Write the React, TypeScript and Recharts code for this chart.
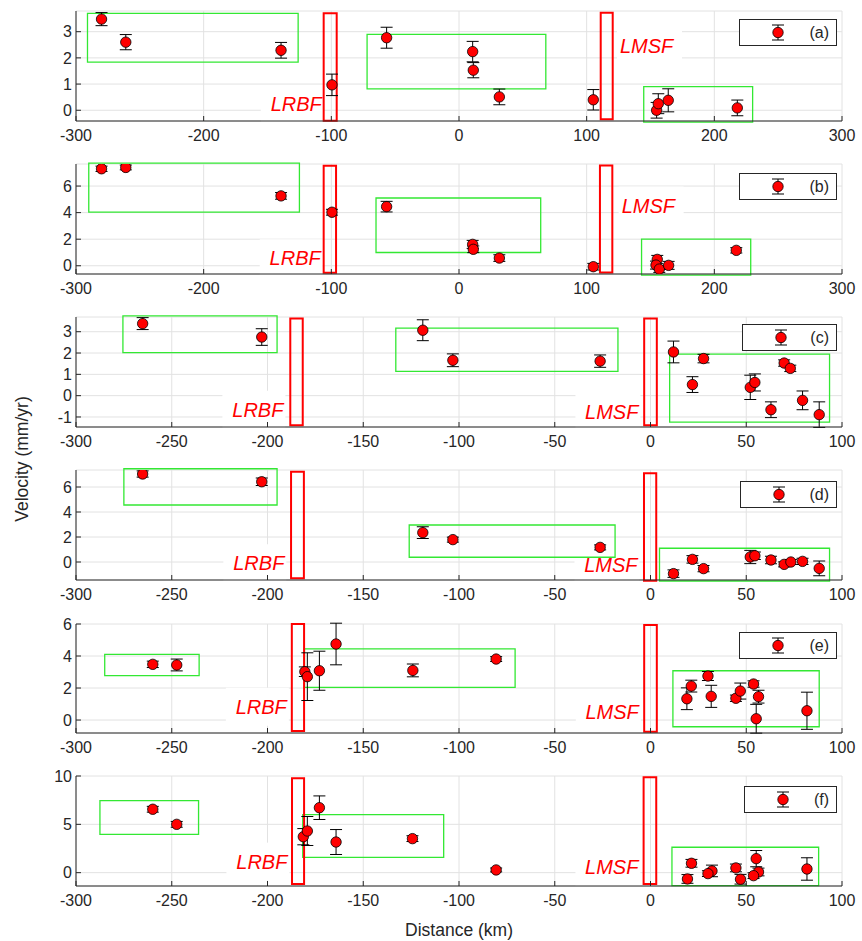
import { ScatterChart, Scatter, XAxis, YAxis, CartesianGrid, ErrorBar, ReferenceArea, ReferenceDot, Legend } from 'recharts';

const FONT = '"Liberation Sans", Arial, Helvetica, sans-serif';
const INK = '#262626';
const GREEN = '#33e833';
const RED = '#ff0000';

// x ticks
const ticksWide = [-300, -200, -100, 0, 100, 200, 300];
const ticksNarrow = [-300, -250, -200, -150, -100, -50, 0, 50, 100];

// panel (a)
const distA = [-280, -261, -139.4, -99.5, -56.7, 10.7, 11.2, 31.6, 105.2, 154.8, 156.1, 163.9, 218];
const velA = [3.48, 2.6, 2.29, 0.97, 2.77, 2.24, 1.53, 0.51, 0.4, 0.0, 0.25, 0.38, 0.09];
const errA = [0.25, 0.29, 0.3, 0.41, 0.4, 0.39, 0.29, 0.3, 0.39, 0.3, 0.38, 0.44, 0.3];
const yTicksA = [0, 1, 2, 3];

// panel (b)
const distB = [-280, -261, -139.4, -99.5, -56.7, 10.7, 11.2, 31.6, 105.2, 155.3, 154.3, 156.9, 164.2, 217.2];
const velB = [7.3, 7.4, 5.26, 4.03, 4.45, 1.61, 1.24, 0.58, -0.07, 0.48, 0.05, -0.25, 0.03, 1.16];
const errB = [0.2, 0.18, 0.25, 0.22, 0.4, 0.3, 0.25, 0.25, 0.25, 0.3, 0.3, 0.25, 0.3, 0.2];
const yTicksB = [0, 2, 4, 6];

// panel (c)
const distC = [-265.2, -203, -118.9, -103.2, -26.3, 12, 27.7, 21.9, 52.1, 54.5, 69.8, 73, 62.9, 79.4, 88.1];
const velC = [3.38, 2.75, 3.07, 1.66, 1.62, 2.05, 1.74, 0.52, 0.39, 0.62, 1.53, 1.28, -0.66, -0.22, -0.89];
const errC = [0.28, 0.39, 0.49, 0.3, 0.29, 0.51, 0.2, 0.37, 0.57, 0.4, 0.15, 0.15, 0.37, 0.44, 0.6];
const yTicksC = [-1, 0, 1, 2, 3];

// panel (d)
const distD = [-265.2, -203, -118.9, -103.2, -26.3, 12, 21.9, 27.7, 52.1, 54.5, 62.9, 69.8, 73.3, 79.4, 88.1];
const velD = [7.04, 6.42, 2.35, 1.79, 1.17, -0.93, 0.21, -0.53, 0.4, 0.5, 0.16, -0.19, 0.0, 0.05, -0.51];
const errD = [0.25, 0.3, 0.47, 0.2, 0.2, 0.3, 0.3, 0.25, 0.53, 0.3, 0.3, 0.2, 0.2, 0.25, 0.59];
const yTicksD = [0, 2, 4, 6];

// panel (e)
const distE = [-259.9, -247.4, -180.5, -179.2, -172.9, -164.2, -124.1, -80.6, 21.3, 19, 30, 31.7, 44.6, 46.9, 53.8, 56.4, 55.2, 81.7];
const velE = [3.48, 3.44, 3.02, 2.71, 3.08, 4.75, 3.1, 3.81, 2.12, 1.33, 2.75, 1.48, 1.36, 1.81, 2.25, 1.46, 0.08, 0.58];
const errE = [0.2, 0.37, 0.3, 1.49, 1.22, 1.3, 0.4, 0.15, 0.37, 0.68, 0.28, 0.69, 0.2, 0.5, 0.2, 0.4, 0.9, 1.16];
const yTicksE = [0, 2, 4, 6];

// panel (f)
const distF = [-259.9, -247.4, -181.3, -179.2, -172.9, -164.2, -124.3, -80.6, 21.4, 19.3, 32.1, 30, 44.6, 47, 55.2, 56.4, 53.8, 81.7];
const velF = [6.56, 5.0, 3.72, 4.31, 6.72, 3.17, 3.52, 0.28, 0.97, -0.65, 0.18, -0.1, 0.49, -0.68, 1.45, 0.07, -0.31, 0.38];
const errF = [0.3, 0.3, 0.84, 1.5, 1.22, 1.29, 0.3, 0.2, 0.4, 0.45, 0.6, 0.3, 0.4, 0.5, 0.84, 0.4, 0.3, 1.16];
const yTicksF = [0, 5, 10];

// boxes: [x1, x2, y1, y2] in data units
type Box = [number, number, number, number];
const greenA: Box[] = [[-291, -126, 1.84, 3.7], [-72, 68, 0.82, 2.9], [144.7, 230, -0.45, 0.9]];
const greenB: Box[] = [[-290, -125, 4.03, 7.73], [-65, 64, 1.0, 5.1], [143, 228.5, -0.7, 2.0]];
const greenC: Box[] = [[-275.5, -195, 2.02, 3.74], [-133, -17, 1.14, 3.17], [10, 93.5, -1.24, 1.95]];
const greenD: Box[] = [[-275, -195, 4.56, 7.46], [-126, -18.5, 0.38, 2.96], [4.7, 93.5, -1.52, 1.1]];
const greenE: Box[] = [[-285, -235.7, 2.77, 4.1], [-180.7, -70.7, 2.04, 4.44], [11.7, 88.1, -0.42, 3.08]];
const greenF: Box[] = [[-287.5, -236, 3.97, 7.45], [-181.6, -108, 1.59, 6.0], [11.2, 87.8, -1.34, 2.63]];

const faultsA: Box[] = [[-106, -95.8, -0.4, 3.7], [111, 120.4, -0.34, 3.72]];
const faultsB: Box[] = [[-106, -96.3, -0.53, 7.52], [110.4, 120.1, -0.5, 7.55]];
const faultsC: Box[] = [[-188.1, -181.6, -1.39, 3.62], [-3.3, 3.3, -1.39, 3.62]];
const faultsD: Box[] = [[-187.7, -181, -1.3, 7.22], [-3.4, 3.0, -1.5, 7.1]];
const faultsE: Box[] = [[-187.3, -180.9, -0.69, 6.0], [-3.3, 3.3, -0.73, 5.94]];
const faultsF: Box[] = [[-187.2, -180.9, -1.17, 9.76], [-3.6, 3.0, -1.17, 9.87]];

type FaultLabel = { text: string; x: number; y: number; anchor: 'start' | 'end' };
const labelsA: FaultLabel[] = [{ text: 'LRBF', x: -107.5, y: 0.24, anchor: 'end' }, { text: 'LMSF', x: 126.1, y: 2.45, anchor: 'start' }];
const labelsB: FaultLabel[] = [{ text: 'LRBF', x: -108.3, y: 0.56, anchor: 'end' }, { text: 'LMSF', x: 127.4, y: 4.53, anchor: 'start' }];
const labelsC: FaultLabel[] = [{ text: 'LRBF', x: -191.7, y: -0.66, anchor: 'end' }, { text: 'LMSF', x: -6.3, y: -0.77, anchor: 'end' }];
const labelsD: FaultLabel[] = [{ text: 'LRBF', x: -191.2, y: -0.1, anchor: 'end' }, { text: 'LMSF', x: -6.8, y: -0.24, anchor: 'end' }];
const labelsE: FaultLabel[] = [{ text: 'LRBF', x: -189.9, y: 0.83, anchor: 'end' }, { text: 'LMSF', x: -6.1, y: 0.48, anchor: 'end' }];
const labelsF: FaultLabel[] = [{ text: 'LRBF', x: -189.6, y: 1.14, anchor: 'end' }, { text: 'LMSF', x: -6.3, y: 0.56, anchor: 'end' }];

const TEXT_W: Record<string, number> = { LRBF: 51, LMSF: 53 };

// white backing box behind the fault name, like a MATLAB text background
function faultBack(text: string, anchor: 'start' | 'end') {
  return (props: any) => {
    const { cx, cy } = props;
    const w = TEXT_W[text];
    const left = anchor === 'end' ? cx - w - 10 : cx - 3;
    return <rect x={left} y={cy - 19} width={w + 12} height={38} fill="#fff" />;
  };
}

function faultText(text: string, anchor: 'start' | 'end') {
  return (props: any) => (
    <text x={props.cx} y={props.cy + 7} textAnchor={anchor} fill={RED} fontSize={20} fontStyle="italic" fontFamily={FONT}>
      {text}
    </text>
  );
}

const dotShape = (props: any) => (
  <circle cx={props.cx} cy={props.cy} r={5.2} fill={RED} stroke="#000" strokeWidth={0.8} />
);

function LegendBox({ tag, width }: { tag: string; width: number }) {
  return (
    <div
      style={{
        boxSizing: 'border-box', width, height: 27, border: `1px solid ${INK}`, background: '#fff',
        position: 'relative', fontFamily: FONT, fontSize: 16, color: INK,
      }}
    >
      <svg width={20} height={25} style={{ position: 'absolute', left: 28, top: 0 }}>
        <line x1={10} x2={10} y1={5} y2={20} stroke="#000" />
        <line x1={4} x2={16} y1={5} y2={5} stroke="#000" />
        <line x1={4} x2={16} y1={20} y2={20} stroke="#000" />
        <circle cx={10} cy={12.5} r={5.2} fill={RED} stroke="#000" strokeWidth={0.8} />
      </svg>
      <span style={{ position: 'absolute', right: 7, top: 4, lineHeight: '18px' }}>{tag}</span>
    </div>
  );
}

type PanelProps = {
  tag: string;
  dist: number[];
  vel: number[];
  err: number[];
  xDomain: [number, number];
  xTicks: number[];
  yDomain: [number, number];
  yTicks: number[];
  green: Box[];
  faults: Box[];
  labels: FaultLabel[];
  top: number;
  plotH: number;
  legendLeft: number;
  legendTop: number;
  legendWidth: number;
};

const tickStyle = { fill: INK, fontSize: 16, fontFamily: FONT };

function Panel(p: PanelProps) {
  const data = p.dist.map((d, i) => ({ x: d, y: p.vel[i], err: p.err[i] }));
  const pad = 10;
  return (
    <div style={{ position: 'absolute', left: 0, top: p.top - pad }}>
      <ScatterChart width={862} height={p.plotH + pad + 32} margin={{ top: pad, right: 20, bottom: 0, left: 0 }}>
        <CartesianGrid stroke="#e2e2e2" />
        <XAxis
          dataKey="x" type="number" domain={p.xDomain} ticks={p.xTicks} interval={0} allowDataOverflow
          height={32} tickSize={-5} tickMargin={14} axisLine={{ stroke: INK }} tickLine={{ stroke: INK }} tick={tickStyle}
        />
        <XAxis
          xAxisId="top" orientation="top" type="number" domain={p.xDomain} ticks={p.xTicks} interval={0} allowDataOverflow
          height={0} tickSize={-5} tickFormatter={() => ''} axisLine={{ stroke: INK }} tickLine={{ stroke: INK }}
        />
        <YAxis
          dataKey="y" type="number" domain={p.yDomain} ticks={p.yTicks} interval={0} allowDataOverflow
          width={76} tickSize={-5} tickMargin={9} axisLine={{ stroke: INK }} tickLine={{ stroke: INK }} tick={tickStyle}
        />
        <YAxis
          yAxisId="right" orientation="right" type="number" domain={p.yDomain} ticks={p.yTicks} interval={0} allowDataOverflow
          width={0} tickSize={-5} tickFormatter={() => ''} axisLine={{ stroke: INK }} tickLine={{ stroke: INK }}
        />
        {p.labels.map((l) => (
          <ReferenceDot key={'b' + l.text} x={l.x} y={l.y} r={0} ifOverflow="visible" zIndex={-50} shape={faultBack(l.text, l.anchor)} />
        ))}
        {p.green.map((b, i) => (
          <ReferenceArea key={'g' + i} x1={b[0]} x2={b[1]} y1={b[2]} y2={b[3]} ifOverflow="visible" fill="none" stroke={GREEN} strokeWidth={1.3} />
        ))}
        {p.faults.map((b, i) => (
          <ReferenceArea key={'f' + i} x1={b[0]} x2={b[1]} y1={b[2]} y2={b[3]} ifOverflow="visible" fill="none" stroke={RED} strokeWidth={2} />
        ))}
        {p.labels.map((l) => (
          <ReferenceDot key={'t' + l.text} x={l.x} y={l.y} r={0} ifOverflow="visible" shape={faultText(l.text, l.anchor)} />
        ))}
        <Scatter data={data} isAnimationActive={false} shape={dotShape}>
          <ErrorBar dataKey="err" direction="y" width={6} stroke="#000" strokeWidth={1} isAnimationActive={false} />
        </Scatter>
        <Legend
          layout="vertical" align="center" verticalAlign="middle"
          wrapperStyle={{ left: p.legendLeft, top: p.legendTop - p.top + pad, width: p.legendWidth }}
          content={() => <LegendBox tag={p.tag} width={p.legendWidth} />}
        />
      </ScatterChart>
    </div>
  );
}

const panels: PanelProps[] = [
  { tag: '(a)', dist: distA, vel: velA, err: errA, xDomain: [-300, 300], xTicks: ticksWide, yDomain: [-0.41, 3.79], yTicks: yTicksA, green: greenA, faults: faultsA, labels: labelsA, top: 11, plotH: 110, legendLeft: 739, legendTop: 19, legendWidth: 98 },
  { tag: '(b)', dist: distB, vel: velB, err: errB, xDomain: [-300, 300], xTicks: ticksWide, yDomain: [-0.62, 7.66], yTicks: yTicksB, green: greenB, faults: faultsB, labels: labelsB, top: 164, plotH: 110, legendLeft: 739, legendTop: 173, legendWidth: 98 },
  { tag: '(c)', dist: distC, vel: velC, err: errC, xDomain: [-300, 100], xTicks: ticksNarrow, yDomain: [-1.47, 3.69], yTicks: yTicksC, green: greenC, faults: faultsC, labels: labelsC, top: 317, plotH: 110, legendLeft: 742, legendTop: 324, legendWidth: 95 },
  { tag: '(d)', dist: distD, vel: velD, err: errD, xDomain: [-300, 100], xTicks: ticksNarrow, yDomain: [-1.44, 7.36], yTicks: yTicksD, green: greenD, faults: faultsD, labels: labelsD, top: 470, plotH: 110, legendLeft: 740, legendTop: 481, legendWidth: 97 },
  { tag: '(e)', dist: distE, vel: velE, err: errE, xDomain: [-300, 100], xTicks: ticksNarrow, yDomain: [-0.81, 6], yTicks: yTicksE, green: greenE, faults: faultsE, labels: labelsE, top: 624, plotH: 109, legendLeft: 739, legendTop: 632, legendWidth: 98 },
  { tag: '(f)', dist: distF, vel: velF, err: errF, xDomain: [-300, 100], xTicks: ticksNarrow, yDomain: [-1.38, 10], yTicks: yTicksF, green: greenF, faults: faultsF, labels: labelsF, top: 776, plotH: 110, legendLeft: 744, legendTop: 786, legendWidth: 93 },
];

export default function App() {
  return (
    <div style={{ position: 'absolute', left: 0, top: 0, width: 862, height: 941, background: '#fff' }}>
      {panels.map((p) => (
        <Panel key={p.tag} {...p} />
      ))}
      <svg width={862} height={941} style={{ position: 'absolute', left: 0, top: 0, pointerEvents: 'none' }}>
        <text transform="translate(28,459) rotate(-90)" textAnchor="middle" fill={INK} fontSize={17.5} fontFamily={FONT}>
          Velocity (mm/yr)
        </text>
        <text x={459} y={936} textAnchor="middle" fill={INK} fontSize={17.5} fontFamily={FONT}>
          Distance (km)
        </text>
      </svg>
    </div>
  );
}
